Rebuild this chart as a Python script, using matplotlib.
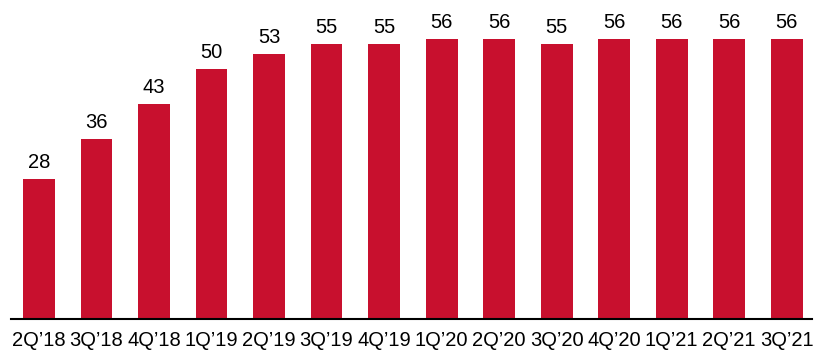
import matplotlib.pyplot as plt

# quarters and values
quarters = ["2Q\u201918", "3Q\u201918", "4Q\u201918", "1Q\u201919", "2Q\u201919", "3Q\u201919", "4Q\u201919",
            "1Q\u201920", "2Q\u201920", "3Q\u201920", "4Q\u201920", "1Q\u201921", "2Q\u201921", "3Q\u201921"]
values = [28, 36, 43, 50, 53, 55, 55, 56, 56, 55, 56, 56, 56, 56]

plt.rcParams['font.family'] = ['Liberation Sans', 'DejaVu Sans']

fig = plt.figure(figsize=(8.14, 3.5), dpi=100)
ax = fig.add_axes([11 / 814, 31.3 / 350, 801 / 814, 318.7 / 350])

x = list(range(len(values)))
bars = ax.bar(x, values, width=0.556, color="#C8102E")

for xi, v in zip(x, values):
    ax.annotate(str(v), (xi, v), xytext=(0, 4.5), textcoords="offset points",
                ha="center", va="bottom", fontsize=14.5, color="black")

ax.set_xlim(-0.487, 13.443)
ax.set_ylim(0, 63.7)
ax.set_xticks(x)
ax.set_xticklabels(quarters, fontsize=14.5)
ax.tick_params(axis="x", length=0, pad=9)
ax.set_yticks([])
for side in ["top", "right", "left"]:
    ax.spines[side].set_visible(False)
ax.spines["bottom"].set_linewidth(1.5)

fig.savefig("out.png", dpi=100)
